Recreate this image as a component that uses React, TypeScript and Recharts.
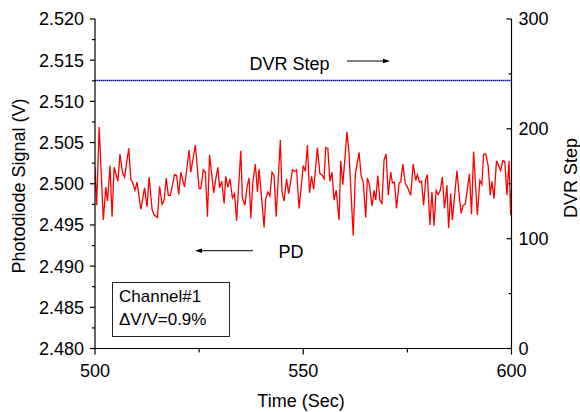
import React from "react";
import { LineChart, Line, XAxis, YAxis } from "recharts";

// ---- data ----
const time: number[] = [
  500.0, 500.4, 501.0, 502.0, 502.6, 503.0, 503.6, 504.1, 504.6, 505.5,
  506.0, 506.6, 507.1, 508.1, 508.6, 509.0, 509.6, 510.1, 511.0, 511.9,
  512.5, 513.0, 513.7, 514.2, 515.0, 515.5, 516.1, 516.6, 517.1, 517.6,
  518.1, 519.1, 519.6, 520.1, 520.6, 521.5, 522.6, 523.0, 524.1, 525.0,
  525.4, 526.0, 526.5, 527.0, 527.5, 528.5, 529.0, 529.5, 529.9, 530.4,
  531.0, 531.4, 531.9, 532.4, 533.0, 533.5, 534.0, 535.0, 535.4, 536.0,
  536.5, 537.0, 537.4, 537.9, 538.5, 539.0, 539.4, 540.6, 541.0, 541.5,
  542.0, 542.5, 543.0, 543.5, 544.5, 544.9, 545.4, 546.0, 546.5, 547.4,
  547.9, 548.4, 549.0, 550.0, 550.5, 551.0, 551.5, 552.0, 552.5, 553.4,
  554.0, 554.5, 555.0, 555.4, 555.9, 556.4, 556.9, 557.4, 557.9, 558.6,
  559.0, 559.5, 560.5, 561.0, 562.0, 562.5, 563.4, 563.9, 564.4, 565.0,
  565.4, 565.9, 566.5, 567.0, 567.4, 567.9, 568.4, 568.9, 569.4, 569.9,
  570.4, 571.0, 571.4, 571.9, 572.4, 573.0, 573.4, 573.9, 574.5, 575.0,
  575.8, 576.4, 577.0, 577.4, 577.9, 578.4, 578.9, 579.4, 579.8, 580.4,
  580.9, 581.4, 581.9, 582.4, 582.9, 583.4, 583.9, 584.5, 584.9, 585.4,
  585.8, 586.9, 587.4, 587.9, 588.4, 588.9, 589.9, 590.4, 590.9, 591.8,
  592.4, 592.9, 593.3, 593.8, 594.4, 594.9, 595.3, 595.8, 596.4, 596.9,
  597.4, 597.9, 598.4, 598.9, 599.4, 599.8, 600.0,
];

const signal: number[] = [
  2.5020, 2.4974, 2.5069, 2.4956, 2.4996, 2.4979, 2.5022, 2.4960, 2.5020, 2.5003,
  2.5036, 2.5014, 2.5008, 2.5043, 2.5005, 2.5002, 2.4992, 2.5002, 2.4969, 2.4995,
  2.4972, 2.5008, 2.4969, 2.4962, 2.4959, 2.4997, 2.4975, 2.4980, 2.5007, 2.4986,
  2.4986, 2.5011, 2.5010, 2.4987, 2.5014, 2.4996, 2.5041, 2.5014, 2.5047, 2.4994,
  2.4994, 2.5017, 2.5014, 2.4960, 2.5035, 2.4989, 2.5006, 2.5020, 2.4995, 2.5003,
  2.4976, 2.5009, 2.4996, 2.5006, 2.4983, 2.4988, 2.4955, 2.5040, 2.4982, 2.4974,
  2.4996, 2.5007, 2.4958, 2.5002, 2.5024, 2.4990, 2.5018, 2.4947, 2.4982, 2.4990,
  2.4985, 2.5014, 2.5010, 2.4960, 2.5053, 2.4990, 2.4979, 2.5006, 2.4988, 2.5017,
  2.5015, 2.5017, 2.4970, 2.5022, 2.5015, 2.5047, 2.4989, 2.5009, 2.4993, 2.5044,
  2.5012, 2.5011, 2.5006, 2.5044, 2.5043, 2.5003, 2.5014, 2.4980, 2.4992, 2.4956,
  2.5028, 2.4999, 2.5063, 2.5036, 2.4937, 2.5011, 2.5038, 2.5010, 2.5002, 2.4959,
  2.5007, 2.4999, 2.4973, 2.4992, 2.4980, 2.5010, 2.4980, 2.4976, 2.5029, 2.5036,
  2.4986, 2.5014, 2.5001, 2.5002, 2.4970, 2.5001, 2.5002, 2.5024, 2.5000, 2.4996,
  2.4986, 2.5024, 2.5004, 2.5011, 2.5002, 2.5003, 2.4974, 2.5005, 2.5011, 2.4950,
  2.4990, 2.4949, 2.4992, 2.4987, 2.4992, 2.5008, 2.4970, 2.4998, 2.4946, 2.4988,
  2.4956, 2.5016, 2.4988, 2.4964, 2.4974, 2.4975, 2.5012, 2.4963, 2.5039, 2.4962,
  2.5004, 2.4999, 2.5036, 2.5036, 2.5022, 2.4986, 2.5003, 2.4982, 2.5028, 2.5022,
  2.5016, 2.5028, 2.5027, 2.4986, 2.5028, 2.4962, 2.4992,
];

const dvrTime: number[] = [500, 600];
const dvrStep: number[] = [244, 244];

const xMajor: number[] = [500, 550, 600];
const xMinor: number[] = [525, 575];
const leftMajor: number[] = [2.48, 2.485, 2.49, 2.495, 2.5, 2.505, 2.51, 2.515, 2.52];
const leftMinor: number[] = [2.4825, 2.4875, 2.4925, 2.4975, 2.5025, 2.5075, 2.5125, 2.5175];
const rightMajor: number[] = [0, 100, 200, 300];
const rightMinor: number[] = [50, 150, 250];

const pdRows = time.map((t, i) => ({ t, v: signal[i] }));
const dvrRows = dvrTime.map((t, i) => ({ t, d: dvrStep[i] }));

const FONT = "'Liberation Sans', Arial, Helvetica, sans-serif";
const isIn = (arr: number[], v: number) => arr.some((m) => Math.abs(m - v) < 1e-7);

const LeftTick = (props: any) => {
  const { x, y, payload } = props;
  const v = payload.value as number;
  const major = isIn(leftMajor, v);
  const ax = x + 11;
  return (
    <g>
      <line x1={ax - (major ? 5 : 3)} x2={ax} y1={y} y2={y} stroke="#000" strokeWidth={1.2} />
      {major && (
        <text x={x} y={y} dy="0.36em" textAnchor="end" fontSize={18} fontFamily={FONT} fill="#000">
          {v.toFixed(3)}
        </text>
      )}
    </g>
  );
};

const RightTick = (props: any) => {
  const { x, y, payload } = props;
  const v = payload.value as number;
  const major = isIn(rightMajor, v);
  const ax = x - 7;
  return (
    <g>
      <line x1={ax - (major ? 5 : 3)} x2={ax} y1={y} y2={y} stroke="#000" strokeWidth={1.2} />
      {major && (
        <text x={x} y={y} dy="0.36em" textAnchor="start" fontSize={18} fontFamily={FONT} fill="#000">
          {String(v)}
        </text>
      )}
    </g>
  );
};

const BottomTick = (props: any) => {
  const { x, y, payload } = props;
  const v = payload.value as number;
  const major = isIn(xMajor, v);
  const ay = y - 16;
  return (
    <g>
      <line x1={x} x2={x} y1={ay} y2={ay + (major ? 6 : 4)} stroke="#000" strokeWidth={1.2} />
      {major && (
        <text x={x} y={y} dy="0.71em" textAnchor="middle" fontSize={18} fontFamily={FONT} fill="#000">
          {String(v)}
        </text>
      )}
    </g>
  );
};

export default function App() {
  return (
    <div style={{ position: "absolute", left: 0, top: 0, width: 580, height: 412, background: "#fff" }}>
      <LineChart
        width={580}
        height={412}
        data={pdRows}
        margin={{ top: 19, right: 18.5, bottom: 23.5, left: 15 }}
      >
        <XAxis
          dataKey="t"
          type="number"
          domain={[500, 600]}
          ticks={[...xMajor, ...xMinor].sort((a, b) => a - b)}
          interval={0}
          height={40}
          tickSize={6}
          tickMargin={10}
          tickLine={false}
          tick={<BottomTick />}
          axisLine={{ stroke: "#000", strokeWidth: 1.2 }}
          allowDataOverflow
        />
        <YAxis
          yAxisId="left"
          domain={[2.48, 2.52]}
          ticks={[...leftMajor, ...leftMinor].sort((a, b) => a - b)}
          interval={0}
          width={80}
          tickSize={5}
          tickMargin={6}
          tickLine={false}
          tick={<LeftTick />}
          axisLine={{ stroke: "#000", strokeWidth: 1.2 }}
          allowDataOverflow
        />
        <YAxis
          yAxisId="right"
          orientation="right"
          domain={[0, 300]}
          ticks={[...rightMajor, ...rightMinor].sort((a, b) => a - b)}
          interval={0}
          width={50}
          tickSize={0}
          tickMargin={7}
          tickLine={false}
          tick={<RightTick />}
          axisLine={{ stroke: "#000", strokeWidth: 1.2 }}
          allowDataOverflow
        />
        <Line
          yAxisId="right"
          data={dvrRows}
          dataKey="d"
          type="linear"
          stroke="#1414a6"
          strokeWidth={1.6}
          strokeDasharray="1.6 0.4"
          dot={false}
          isAnimationActive={false}
        />
        <Line
          yAxisId="left"
          dataKey="v"
          type="linear"
          stroke="#ff0000"
          strokeWidth={1.3}
          dot={false}
          isAnimationActive={false}
        />
      </LineChart>
      <svg
        width={580}
        height={412}
        style={{ position: "absolute", left: 0, top: 0, pointerEvents: "none" }}
        fontFamily={FONT}
      >
        <text transform="translate(25,186) rotate(-90)" textAnchor="middle" fontSize={18} fill="#000">
          Photodiode Signal (V)
        </text>
        <text transform="translate(577,178) rotate(-90)" textAnchor="middle" fontSize={18} fill="#000">
          DVR Step
        </text>
        <text x={301} y={407} textAnchor="middle" fontSize={18} fill="#000">
          Time (Sec)
        </text>
        <text x={249.5} y={70} fontSize={18} fill="#000">DVR Step</text>
        <line x1={347} y1={61} x2={385} y2={61} stroke="#000" strokeWidth={1} />
        <polygon points="390,61 383,58.8 383,63.2" fill="#000" />
        <text x={278.5} y={258} fontSize={18} fill="#000">PD</text>
        <line x1={253} y1={250.7} x2={200} y2={250.7} stroke="#000" strokeWidth={1} />
        <polygon points="195,250.7 202,248.5 202,252.9" fill="#000" />
        <rect x={112.5} y={282.5} width={117} height={54} fill="none" stroke="#222" strokeWidth={1} />
        <text x={119} y={302} fontSize={17} fill="#000">Channel#1</text>
        <text x={119} y={325} fontSize={17} fill="#000">ΔV/V=0.9%</text>
      </svg>
    </div>
  );
}
